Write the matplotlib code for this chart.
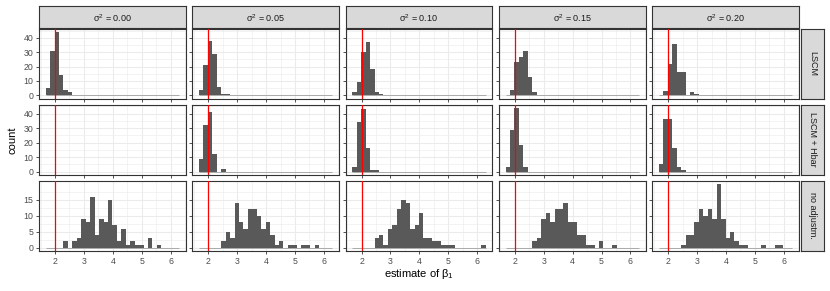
import numpy as np
import matplotlib.pyplot as plt

plt.rcParams['font.family'] = ['Liberation Sans', 'DejaVu Sans']
plt.rcParams['mathtext.fontset'] = 'custom'
plt.rcParams['mathtext.rm'] = 'Liberation Sans'
plt.rcParams['mathtext.it'] = 'Liberation Sans'

# histogram bins shared by all panels
bin_start = 1.677
bin_width = 0.154
n_bins = 30

sigma2 = ['0.00', '0.05', '0.10', '0.15', '0.20']
methods = ['LSCM', 'LSCM + Hbar', 'no adjustm.']
true_beta = 2

# counts per bin, starting at bin 0
lscm = [
    [5, 31, 44, 14, 4, 2],
    [4, 21, 38, 29, 6, 1, 1],
    [2, 9, 30, 37, 18, 2, 1],
    [0, 4, 23, 27, 31, 13, 2],
    [0, 3, 22, 36, 16, 16, 0, 2, 1],
]
lscm_hbar = [
    [],
    [9, 32, 41, 12, 0, 2],
    [3, 34, 43, 16, 1, 1],
    [3, 29, 44, 18, 3],
    [5, 36, 36, 16, 3, 1],
]
no_adj = [
    [0, 0, 0, 0, 2, 0, 2, 3, 9, 8, 16, 4, 9, 8, 15, 7, 2, 6, 1, 2, 1, 1, 0, 3, 0, 1, 0, 0, 0, 0],
    [0, 0, 0, 0, 0, 2, 5, 3, 14, 8, 6, 12, 12, 10, 6, 8, 4, 1, 2, 0, 1, 1, 0, 1, 1, 0, 1, 0, 0, 0],
    [0, 0, 0, 0, 0, 3, 4, 1, 6, 7, 12, 15, 14, 6, 7, 11, 3, 3, 2, 2, 1, 1, 1, 0, 0, 0, 0, 0, 0, 1],
    [0, 0, 0, 0, 0, 0, 2, 3, 9, 11, 8, 12, 12, 14, 8, 8, 4, 4, 1, 1, 0, 2, 0, 0, 1, 0, 0, 0, 0, 0],
    [0, 0, 0, 0, 0, 1, 4, 4, 8, 12, 10, 12, 9, 20, 9, 3, 5, 2, 1, 1, 0, 0, 0, 1, 0, 0, 1, 1, 0, 0],
]
all_counts = [lscm, lscm_hbar, no_adj]

W, H = 830, 291
fig = plt.figure(figsize=(W / 100, H / 100), dpi=100)

def px_axes(x0, y0, w, h):
    return fig.add_axes([x0 / W, 1 - (y0 + h) / H, w / W, h / H])

edges = bin_start + bin_width * np.arange(n_bins + 1)
lefts = edges[:-1]
lo, hi = edges[0], edges[-1]
pad = (hi - lo) * 0.05
xlim = (lo - pad, hi + pad)

panel_w, gap_x, left0 = 146.8, 6.5, 39
panel_h = [69.5, 70, 70.3]
row_top = [29, 104.7, 180.7]
dark = '#333333'

for r in range(3):
    ymax = max(max(c) if len(c) else 0 for c in all_counts[r])
    ylim = (-ymax * 0.05, ymax * 1.05)
    if r < 2:
        major_y = [0, 10, 20, 30, 40]
        minor_y = [5, 15, 25, 35, 45]
    else:
        major_y = [0, 5, 10, 15]
        minor_y = [2.5, 7.5, 12.5, 17.5]
    for c in range(5):
        x0 = left0 + c * (panel_w + gap_x)
        ax = px_axes(x0, row_top[r], panel_w, panel_h[r])
        counts = np.zeros(n_bins)
        vals = all_counts[r][c]
        counts[:len(vals)] = vals
        ax.set_xlim(*xlim)
        ax.set_ylim(*ylim)
        ax.set_xticks([2, 3, 4, 5, 6])
        ax.set_xticks([1.5, 2.5, 3.5, 4.5, 5.5, 6.5], minor=True)
        ax.set_yticks(major_y)
        ax.set_yticks(minor_y, minor=True)
        ax.grid(which='major', color='#EBEBEB', lw=0.75)
        ax.grid(which='minor', color='#EBEBEB', lw=0.4)
        ax.set_axisbelow(True)
        if len(vals):
            ax.hlines(0, lo, hi, color='#A0A0A0', lw=0.6, zorder=2)
            ax.bar(lefts, counts, width=bin_width, align='edge',
                   color='#595959', edgecolor='none', zorder=3)
        ax.axvline(true_beta, color='red', lw=0.9, zorder=4)
        for s in ax.spines.values():
            s.set_color(dark)
            s.set_linewidth(0.8)
        ax.tick_params(which='both', length=0)
        ax.tick_params(which='major', length=2.5, width=0.6, color=dark,
                       labelsize=6.3, labelcolor='#4D4D4D', pad=1.5)
        if c > 0:
            ax.tick_params(labelleft=False)
        if r < 2:
            ax.tick_params(labelbottom=False)

        # column strips
        if r == 0:
            st = px_axes(x0, 6, panel_w, 22.3)
            st.set_facecolor('#D9D9D9')
            st.set_xticks([])
            st.set_yticks([])
            for s in st.spines.values():
                s.set_color(dark)
                s.set_linewidth(0.8)
            st.text(0.5, 0.45, r'$\sigma^2$ = ' + sigma2[c], ha='center', va='center',
                    fontsize=6.5, color='#1A1A1A', transform=st.transAxes)
    # row strips
    st = px_axes(801, row_top[r], 22.5, panel_h[r])
    st.set_facecolor('#D9D9D9')
    st.set_xticks([])
    st.set_yticks([])
    for s in st.spines.values():
        s.set_color(dark)
        s.set_linewidth(0.8)
    st.text(0.5, 0.5, methods[r], ha='center', va='center', rotation=-90,
            fontsize=6.5, color='#1A1A1A', transform=st.transAxes)

fig.text(12 / W, 1 - 140 / H, 'count', rotation=90, ha='center', va='center', fontsize=8)
fig.text(419 / W, 1 - 274 / H, r'estimate of $\beta_1$', ha='center', va='center', fontsize=8)

fig.savefig('out.png', dpi=100)
